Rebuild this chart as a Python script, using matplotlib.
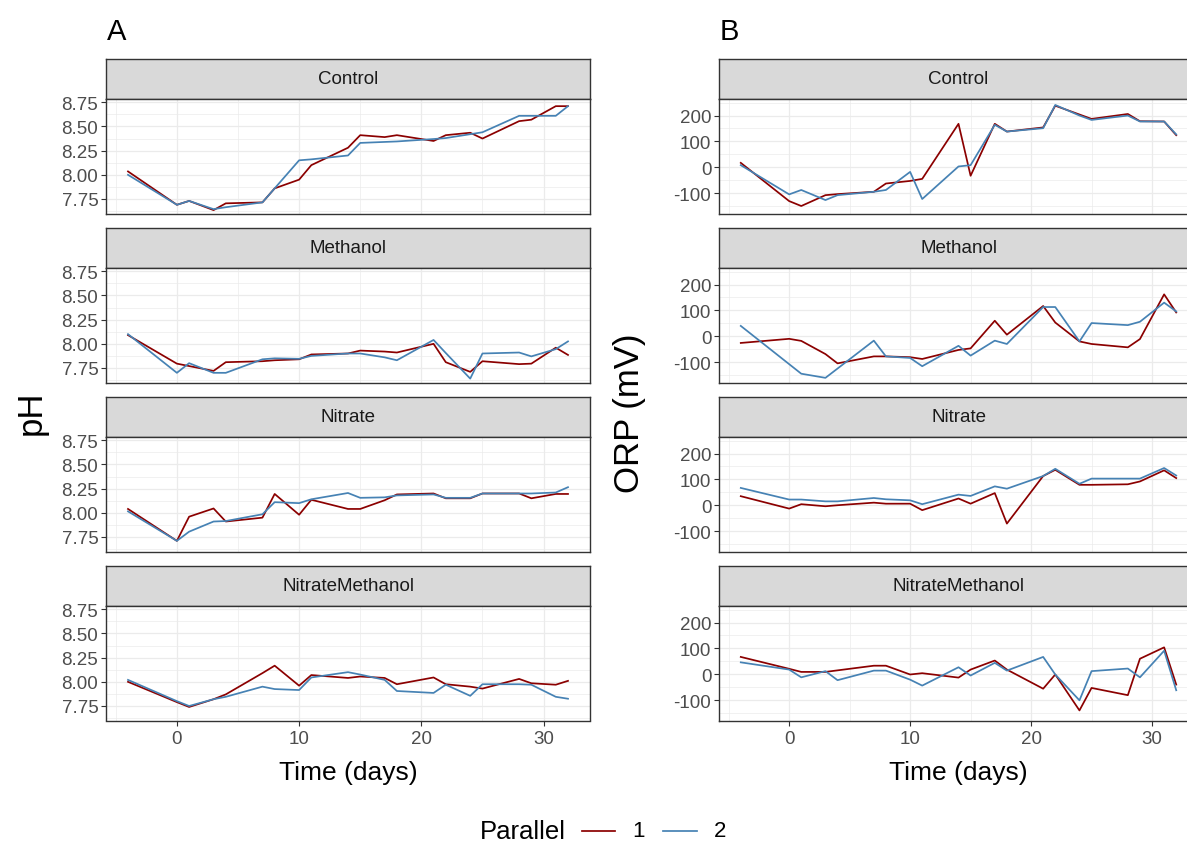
import matplotlib
matplotlib.use("Agg")
import matplotlib.pyplot as plt
from matplotlib.lines import Line2D

plt.rcParams["font.family"] = ["Liberation Sans", "DejaVu Sans"]

# sampling days (relative to start of treatment)
days = [-4, 0, 1, 3, 4, 7, 8, 10, 11, 14, 15, 17, 18, 21, 22, 24, 25, 28, 29, 31, 32]
treatments = ["Control", "Methanol", "Nitrate", "NitrateMethanol"]

# pH, parallel 1 and 2
ph_control_1 = [8.035, 7.69, 7.73, 7.635, 7.705, 7.715, 7.86, 7.95, 8.10, 8.28, 8.41,
                8.39, 8.41, 8.35, 8.41, 8.435, 8.375, 8.555, 8.57, 8.71, 8.71]
ph_control_2 = [8.0, 7.69, 7.73, 7.645, 7.665, 7.715, 7.86, 8.15, 8.16, 8.20, 8.33,
                8.34, 8.345, 8.37, 8.38, 8.42, 8.44, 8.61, 8.61, 8.61, 8.71]
ph_methanol_1 = [8.09, 7.795, 7.77, 7.72, 7.81, 7.82, 7.83, 7.84, 7.89, 7.90, 7.93,
                 7.92, 7.91, 8.0, 7.81, 7.71, 7.82, 7.79, 7.795, 7.96, 7.885]
ph_methanol_2 = [8.10, 7.70, 7.80, 7.70, 7.70, 7.84, 7.85, 7.845, 7.875, 7.90, 7.90,
                 7.86, 7.83, 8.04, 7.905, 7.64, 7.90, 7.91, 7.87, 7.945, 8.025]
ph_nitrate_1 = [8.04, 7.71, 7.96, 8.045, 7.91, 7.95, 8.195, 7.98, 8.135, 8.04, 8.04,
                8.13, 8.19, 8.2, 8.15, 8.15, 8.2, 8.2, 8.15, 8.195, 8.195]
ph_nitrate_2 = [8.015, 7.71, 7.805, 7.91, 7.915, 7.985, 8.11, 8.10, 8.14, 8.205, 8.155,
                8.16, 8.18, 8.19, 8.155, 8.155, 8.2, 8.2, 8.2, 8.21, 8.265]
ph_nitmeth_1 = [8.0, 7.79, 7.74, 7.82, 7.87, 8.09, 8.167, 7.96, 8.07, 8.04, 8.055,
                8.04, 7.975, 8.045, 7.975, 7.95, 7.93, 8.03, 7.985, 7.97, 8.01]
ph_nitmeth_2 = [8.02, 7.80, 7.75, 7.82, 7.845, 7.95, 7.925, 7.915, 8.045, 8.10, 8.075,
                8.02, 7.905, 7.885, 7.97, 7.855, 7.975, 7.975, 7.97, 7.845, 7.825]

# ORP (mV), parallel 1 and 2
orp_control_1 = [17, -131, -150, -108, -104, -95, -63, -53, -45, 168, -33,
                 168, 138, 154, 238, 204, 187, 206, 178, 177, 124]
orp_control_2 = [8, -105, -88, -127, -108, -95, -88, -18, -123, 3, 8,
                 164, 138, 151, 241, 200, 183, 200, 177, 177, 127]
orp_methanol_1 = [-26, -10, -18, -69, -105, -78, -78, -81, -88, -53, -47,
                  60, 6, 117, 53, -20, -30, -43, -11, 162, 92]
orp_methanol_2 = [40, -108, -145, -161, -125, -17, -78, -84, -116, -37, -75,
                  -17, -30, 113, 113, -20, 51, 43, 56, 130, 96]
orp_nitrate_1 = [35, -13, 4, -4, 0, 10, 6, 6, -19, 26, 6,
                 47, -71, 113, 137, 79, 79, 81, 92, 135, 105]
orp_nitrate_2 = [67, 22, 22, 15, 15, 28, 23, 19, 4, 41, 36,
                 73, 64, 113, 141, 83, 103, 103, 103, 144, 115]
orp_nitmeth_1 = [67, 21, 9, 9, 15, 33, 33, -1, 4, -13, 18,
                 53, 18, -56, -1, -140, -53, -81, 60, 104, -40]
orp_nitmeth_2 = [46, 18, -12, 12, -23, 14, 14, -21, -44, 27, -5,
                 44, 14, 67, -1, -101, 12, 22, -12, 91, -62]

ph_series = {
    "Control": (ph_control_1, ph_control_2),
    "Methanol": (ph_methanol_1, ph_methanol_2),
    "Nitrate": (ph_nitrate_1, ph_nitrate_2),
    "NitrateMethanol": (ph_nitmeth_1, ph_nitmeth_2),
}
orp_series = {
    "Control": (orp_control_1, orp_control_2),
    "Methanol": (orp_methanol_1, orp_methanol_2),
    "Nitrate": (orp_nitrate_1, orp_nitrate_2),
    "NitrateMethanol": (orp_nitmeth_1, orp_nitmeth_2),
}

W, H = 1187, 845
RED = "#8B0000"
BLUE = "#4682B4"
GRID = "#EBEBEB"
BORDER = "#333333"
TICKTXT = "#4D4D4D"
LW = 1.25


def box(x0, y0, x1, y1):
    return [x0 / W, 1 - y1 / H, (x1 - x0) / W, (y1 - y0) / H]


def draw_column(fig, x0, x1, series, ylim, yticks, yminor, ylabels):
    for i, name in enumerate(treatments):
        top = 59.5 + 169 * i
        strip = fig.add_axes(box(x0, top, x1, top + 40.5))
        strip.set_facecolor("#D9D9D9")
        strip.set_xticks([])
        strip.set_yticks([])
        for s in strip.spines.values():
            s.set_color(BORDER)
            s.set_linewidth(1.0)
        strip.text(0.5, 0.5, name, ha="center", va="center", fontsize=13.5,
                   color="#1A1A1A", transform=strip.transAxes)

        ax = fig.add_axes(box(x0, top + 40.5, x1, top + 155))
        p1, p2 = series[name]
        ax.plot(days, p1, color=RED, lw=LW, zorder=3)
        ax.plot(days, p2, color=BLUE, lw=LW, zorder=4)
        ax.set_xlim(-5.8, 33.8)
        ax.set_ylim(*ylim)
        ax.set_xticks([0, 10, 20, 30])
        ax.set_xticks([-5, 5, 15, 25], minor=True)
        ax.set_yticks(yticks)
        ax.set_yticklabels(ylabels)
        ax.set_yticks(yminor, minor=True)
        ax.grid(which="major", color=GRID, lw=0.9)
        ax.grid(which="minor", color=GRID, lw=0.5)
        ax.set_axisbelow(True)
        for s in ax.spines.values():
            s.set_color(BORDER)
            s.set_linewidth(1.0)
        ax.tick_params(which="minor", length=0)
        ax.tick_params(which="major", length=3.5, width=0.8, color=BORDER,
                       labelsize=13.5, labelcolor=TICKTXT, pad=2)
        if i < len(treatments) - 1:
            ax.tick_params(axis="x", bottom=False, labelbottom=False)
        else:
            ax.tick_params(axis="x", pad=3.5)


fig = plt.figure(figsize=(W / 100, H / 100), dpi=100)

draw_column(fig, 106, 590, ph_series, (7.60, 8.784),
            [7.75, 8.0, 8.25, 8.5, 8.75], [7.625, 7.875, 8.125, 8.375, 8.625],
            ["7.75", "8.00", "8.25", "8.50", "8.75"])
draw_column(fig, 719, 1198, orp_series, (-179, 264),
            [-100, 0, 100, 200], [-150, -50, 50, 150, 250],
            ["-100", "0", "100", "200"])

fig.text(107 / W, 1 - 40 / H, "A", fontsize=21, ha="left", va="baseline")
fig.text(720 / W, 1 - 40 / H, "B", fontsize=21, ha="left", va="baseline")

fig.text(31 / W, 1 - 413 / H, "pH", rotation=90, ha="center", va="center", fontsize=25)
fig.text(630 / W, 1 - 413 / H, "ORP (mV)", rotation=90, ha="center", va="center", fontsize=25)
fig.text(348 / W, 1 - 773 / H, "Time (days)", ha="center", va="center", fontsize=19)
fig.text(958 / W, 1 - 773 / H, "Time (days)", ha="center", va="center", fontsize=19)

# legend along the bottom edge
ly = 1 - 832 / H
fig.text(480 / W, ly, "Parallel", ha="left", va="center", fontsize=18.5)
fig.add_artist(Line2D([582 / W, 615 / W], [ly, ly], color=RED, lw=LW))
fig.text(638 / W, ly, "1", ha="center", va="center", fontsize=16)
fig.add_artist(Line2D([663 / W, 697 / W], [ly, ly], color=BLUE, lw=LW))
fig.text(720 / W, ly, "2", ha="center", va="center", fontsize=16)

fig.savefig("out.png", dpi=100)
